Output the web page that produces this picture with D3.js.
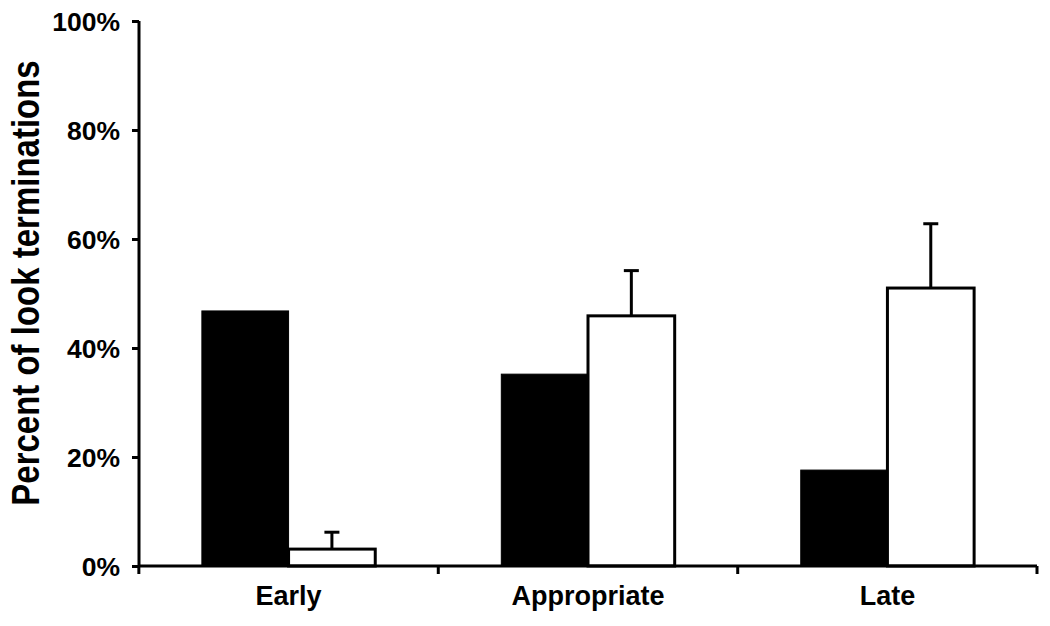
<!DOCTYPE html>
<html><head><meta charset="utf-8">
<script src="https://cdn.jsdelivr.net/npm/d3@7"></script>
<style>body{margin:0;background:#fff}svg{display:block}text{font-family:"Liberation Sans",Arial,sans-serif;font-weight:bold;fill:#000}</style>
</head><body><svg id="c" width="1050" height="626"></svg>
<script>
const categories = ["Early", "Appropriate", "Late"];
const series1 = [46.8, 35.2, 17.6];   // black bars
const series2 = [3.1, 45.9, 51.0];    // white bars
const series2Err = [3.1, 8.3, 11.8];  // upper error
const yTicks = [0, 20, 40, 60, 80, 100];

const svg = d3.select("#c");
const y = d3.scaleLinear().domain([0, 100]).range([566, 21]);
const x = d3.scaleBand().domain(categories).range([139, 1037]).paddingInner(0.421).paddingOuter(0.21);
const sub = d3.scaleBand().domain([0, 1]).range([0, x.bandwidth()]);

// bars
const g = svg.append("g");
categories.forEach((c, i) => {
  g.append("rect").attr("x", x(c) + sub(0)).attr("y", y(series1[i]))
    .attr("width", sub.bandwidth()).attr("height", y(0) - y(series1[i]))
    .attr("fill", "#000").attr("stroke", "#000").attr("stroke-width", 1);
  const cx = x(c) + sub(1) + sub.bandwidth() / 2;
  g.append("line").attr("x1", cx).attr("x2", cx)
    .attr("y1", y(series2[i])).attr("y2", y(series2[i] + series2Err[i]))
    .attr("stroke", "#000").attr("stroke-width", 3);
  g.append("line").attr("x1", cx - 7.5).attr("x2", cx + 7.5)
    .attr("y1", y(series2[i] + series2Err[i])).attr("y2", y(series2[i] + series2Err[i]))
    .attr("stroke", "#000").attr("stroke-width", 3);
  g.append("rect").attr("x", x(c) + sub(1)).attr("y", y(series2[i]))
    .attr("width", sub.bandwidth()).attr("height", y(0) - y(series2[i]))
    .attr("fill", "#fff").attr("stroke", "#000").attr("stroke-width", 3);
});

// y axis
const yAxis = svg.append("g").attr("transform", "translate(139,0)")
  .call(d3.axisLeft(y).tickValues(yTicks).tickFormat(d => d + "%").tickSize(7).tickPadding(12));
yAxis.select(".domain").attr("stroke-width", 3).attr("d", `M0,${y(100)}V${y(0)}`);
yAxis.selectAll(".tick line").attr("stroke-width", 3);
yAxis.selectAll(".tick text").attr("font-size", 26.5).attr("dy", "0.36em");

// x axis
const step = x.step();
const bounds = categories.map(c => x(c) - step * x.paddingInner() / 2).concat([1037]);
svg.append("line").attr("x1", 139).attr("x2", 1037).attr("y1", y(0)).attr("y2", y(0))
  .attr("stroke", "#000").attr("stroke-width", 3);
svg.append("g").selectAll("line").data(bounds).join("line")
  .attr("x1", d => d).attr("x2", d => d).attr("y1", y(0)).attr("y2", y(0) + 8)
  .attr("stroke", "#000").attr("stroke-width", 3);
svg.append("g").selectAll("text").data(categories).join("text")
  .attr("x", c => x(c) + x.bandwidth() / 2).attr("y", 605)
  .attr("text-anchor", "middle").attr("font-size", 27).text(c => c);

// y label
svg.append("text").attr("transform", "translate(39,283) rotate(-90) scale(1,1.15)")
  .attr("text-anchor", "middle").attr("font-size", 33).text("Percent of look terminations");
</script></body></html>
